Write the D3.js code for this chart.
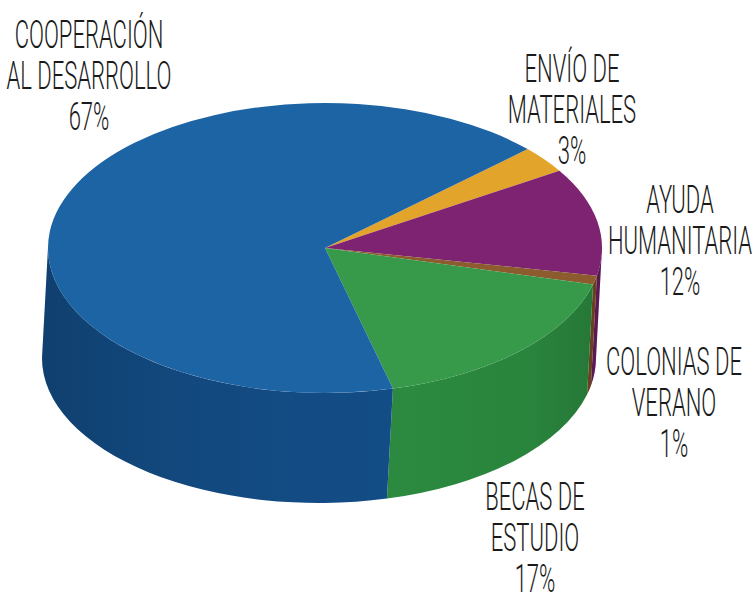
<!DOCTYPE html>
<html>
<head>
<meta charset="utf-8">
<script src="https://cdn.jsdelivr.net/npm/d3@7"></script>
<style>
  html, body { margin: 0; padding: 0; background: #fff; }
  svg { display: block; }
</style>
</head>
<body>
<div id="chart"></div>
<script>
// Data, clockwise from the top-right
const categories = ["Envío de materiales", "Ayuda humanitaria", "Colonias de verano", "Becas de estudio", "Cooperación al desarrollo"];
const values = [3, 12, 1, 17, 67];
const labelLines = [
  ["ENVÍO DE", "MATERIALES"],
  ["AYUDA", "HUMANITARIA"],
  ["COLONIAS DE", "VERANO"],
  ["BECAS DE", "ESTUDIO"],
  ["COOPERACIÓN", "AL DESARROLLO"]
];
const topColors = ["#e3a42b", "#7e2372", "#8c5b2e", "#37994a", "#1d64a5"];
const sideColors = ["#c98f22", "#6a1c60", "#774b25", "#2b8a3f", "#134d86"];

// Layout
const W = 752, H = 604;
const cx = 325, cy = 248, rx = 277, ry = 145, depth = 110, shift = -6;
const labelPos = [[572, 82], [680, 213], [674, 375], [535, 510], [89, 48]];
const lineGap = 41;

const svg = d3.select("#chart").append("svg")
  .attr("width", W).attr("height", H);

const pie = d3.pie().sort(null).value(d => d)
  .startAngle(47 * Math.PI / 180)
  .endAngle(47 * Math.PI / 180 + 2 * Math.PI);
const arcs = pie(values);

// screen angle: clockwise from 3 o'clock
const sa = t => t - Math.PI / 2;
const topPt = a => [cx + rx * Math.cos(a), cy + ry * Math.sin(a)];
const botPt = a => [cx + shift + rx * Math.cos(a), cy + depth + ry * Math.sin(a)];

// front wall pieces (screen angle in [0, PI], with wrap)
function frontRanges(a0, a1) {
  const out = [];
  for (let k = -1; k <= 1; k++) {
    const lo = Math.max(a0, k * 2 * Math.PI), hi = Math.min(a1, k * 2 * Math.PI + Math.PI);
    if (hi > lo) out.push([lo, hi]);
  }
  return out;
}

function wallPath(a0, a1) {
  const p0 = topPt(a0), p1 = topPt(a1), b1 = botPt(a1), b0 = botPt(a0);
  return `M${p0}A${rx},${ry} 0 0 1 ${p1}L${b1}A${rx},${ry} 0 0 0 ${b0}Z`;
}

const defs = svg.append("defs");
const grad = defs.append("linearGradient").attr("id", "shade")
  .attr("gradientUnits", "userSpaceOnUse")
  .attr("x1", cx - rx - 10).attr("x2", cx + rx).attr("y1", 0).attr("y2", 0);
[[0, 0.18], [0.2, 0.08], [0.45, 0.02], [0.65, 0], [0.88, 0.05], [1, 0.15]].forEach(s =>
  grad.append("stop").attr("offset", s[0]).attr("stop-color", "#000").attr("stop-opacity", s[1]));

const sides = svg.append("g");
arcs.forEach((d, i) => {
  frontRanges(sa(d.startAngle), sa(d.endAngle)).forEach(r => {
    sides.append("path").attr("d", wallPath(r[0], r[1])).attr("fill", sideColors[i]);
    sides.append("path").attr("d", wallPath(r[0], r[1])).attr("fill", "url(#shade)");
  });
});

// top face
svg.append("g").selectAll("path")
  .data(arcs)
  .join("path")
  .attr("d", d => {
    const a0 = sa(d.startAngle), a1 = sa(d.endAngle);
    const large = a1 - a0 > Math.PI ? 1 : 0;
    return `M${cx},${cy}L${topPt(a0)}A${rx},${ry} 0 ${large} 1 ${topPt(a1)}Z`;
  })
  .attr("fill", (d, i) => topColors[i]);

// labels
const labels = svg.append("g")
  .attr("font-family", "Roboto, 'DejaVu Sans', sans-serif")
  .attr("font-weight", 300)
  .attr("font-size", 38)
  .attr("fill", "#1a1a1a")
  .attr("text-anchor", "middle");

categories.forEach((c, i) => {
  const g = labels.append("g")
    .attr("transform", `translate(${labelPos[i][0]},${labelPos[i][1]}) scale(0.58,1)`);
  labelLines[i].concat([values[i] + "%"]).forEach((t, j) => {
    g.append("text").attr("y", j * lineGap).text(t);
  });
});
</script>
</body>
</html>
